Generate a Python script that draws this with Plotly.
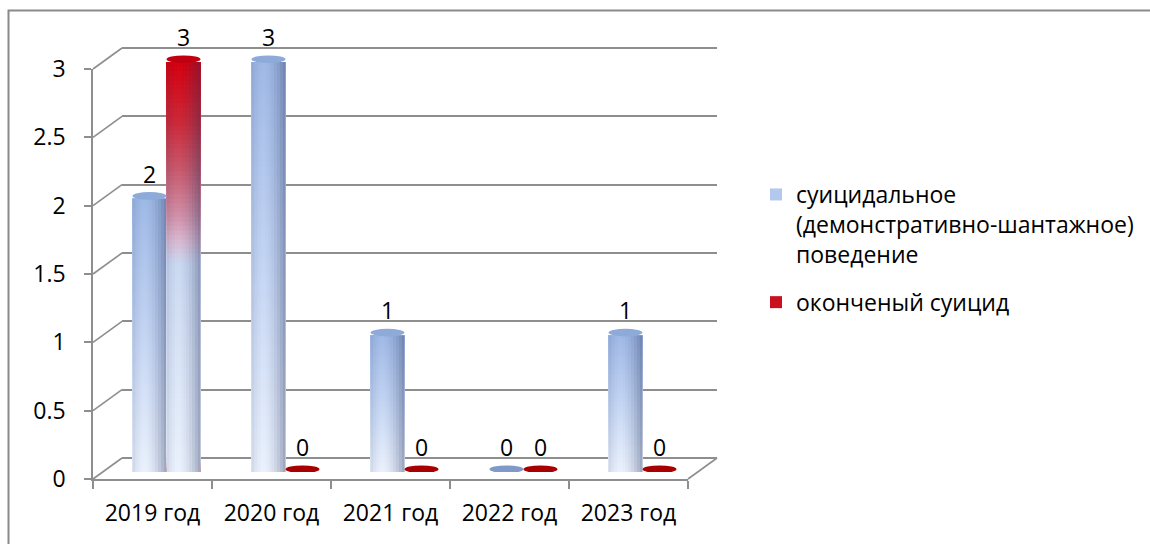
import plotly.graph_objects as go

# ---------------- data ----------------
years = ["2019 год", "2020 год", "2021 год", "2022 год", "2023 год"]
behaviour_name = "суицидальное<br>(демонстративно-шантажное)<br>поведение"
completed_name = "оконченый суицид"
behaviour = [2, 3, 1, 0, 1]
completed = [3, 0, 0, 0, 0]
y_ticks = [0, 0.5, 1, 1.5, 2, 2.5, 3]

# ---------------- geometry (pixels) ----------------
W, H = 1150, 544
FONT = "Open Sans"
FS = 23
PXU = 136.67            # pixels per unit on the value axis
FX0, FX1 = 93, 688      # front floor edge
FY0 = 479               # front zero level
DX, DY = 29, -21        # depth offset of back wall
BX0, BX1 = 107, 702     # bar plane
BY0 = 472               # bar base level
GRID = "#8e8e8e"


def px(x):
    return x / W


def py(y):
    return 1 - y / H


def hex2rgb(h):
    h = h.lstrip("#")
    return tuple(int(h[i:i + 2], 16) for i in (0, 2, 4))


def grad(stops, t):
    for (t0, c0), (t1, c1) in zip(stops[:-1], stops[1:]):
        if t <= t1:
            a = (t - t0) / (t1 - t0) if t1 > t0 else 0
            r0, r1 = hex2rgb(c0), hex2rgb(c1)
            return "rgb(%d,%d,%d)" % tuple(round(r0[i] + (r1[i] - r0[i]) * a) for i in range(3))
    return stops[-1][1]


BLUE_STOPS = [(0, "#eaf1fc"), (0.5, "#c4d5f3"), (1, "#9fb9e6")]
RED_STOPS = [(0, "#eaf1fc"), (0.51, "#cad8f1"), (0.565, "#d8b8d0"), (0.625, "#d090a8"),
             (0.735, "#c85a6e"), (0.85, "#cc2a3a"), (1, "#d40010")]

series = [
    dict(name=behaviour_name, values=behaviour, stops=BLUE_STOPS, legend="#b3c8ee",
         top="#8eaad9", zero="#7f9ac8", side=-1, group="a"),
    dict(name=completed_name, values=completed, stops=RED_STOPS, legend="#c8101e",
         top="#c00010", zero="#a80000", side=1, group="b"),
]

BW = 0.286
K = 90
S = 12

fig = go.Figure()

# helper traces to create the back-wall and front-axis subplots
fig.add_scatter(x=years, y=behaviour, xaxis="x", yaxis="y", mode="markers",
                marker=dict(size=1, opacity=0), hoverinfo="skip", showlegend=False)
fig.add_scatter(x=years, y=behaviour, xaxis="x2", yaxis="y2", mode="markers",
                marker=dict(size=1, opacity=0), hoverinfo="skip", showlegend=False)

shapes = []
annotations = []

for s in series:
    vals = s["values"]
    off = -BW if s["side"] < 0 else 0.0
    # legend / base trace
    fig.add_bar(x=years, y=vals, offset=off, width=BW, name=s["name"],
                marker=dict(color=s["legend"], line=dict(width=0)),
                xaxis="x3", yaxis="y3", hoverinfo="skip", legendgroup=s["group"],
                showlegend=True)
    # vertical gradient
    for k in range(K):
        lo = k / K
        t = (k + 0.5) / K
        fig.add_bar(x=years, y=[v * (1 - lo) for v in vals], base=[v * lo for v in vals],
                    offset=off, width=BW,
                    marker=dict(color=grad(s["stops"], t), line=dict(width=0)),
                    xaxis="x3", yaxis="y3", hoverinfo="skip", showlegend=False,
                    legendgroup=s["group"])
    # horizontal cylinder shading
    for j in range(S):
        u = (j + 0.5) / S
        if u < 0.35:
            a = 0.14 * ((0.35 - u) / 0.35) ** 2
        else:
            a = 0.42 * ((u - 0.35) / 0.65) ** 1.8
        fig.add_bar(x=years, y=vals, offset=off + BW * j / S, width=BW / S,
                    marker=dict(color="rgba(40,52,95,%.3f)" % a, line=dict(width=0)),
                    xaxis="x3", yaxis="y3", hoverinfo="skip", showlegend=False,
                    legendgroup=s["group"])
    cx_off = off + BW / 2
    hh = 0.028
    for i, v in enumerate(vals):
        cx = i + cx_off
        shapes.append(dict(type="circle", xref="x3", yref="y3",
                           x0=cx - BW / 2, x1=cx + BW / 2,
                           y0=v + 0.02 - hh, y1=v + 0.02 + hh,
                           fillcolor=s["top"] if v else s["zero"], line=dict(width=0),
                           layer="above"))
        if v:
            shapes.append(dict(type="circle", xref="x3", yref="y3",
                               x0=cx - BW / 2, x1=cx + BW / 2, y0=-hh, y1=hh,
                               fillcolor="#dfe7f5", line=dict(width=0), layer="below"))
        annotations.append(dict(x=cx, y=v, xref="x3", yref="y3", text=str(v),
                                showarrow=False, yshift=25,
                                font=dict(family=FONT, size=FS, color="black")))

# 3D frame: diagonals from front ticks to back wall, right floor edge
for v in y_ticks:
    shapes.append(dict(type="line", xref="paper", yref="paper",
                       x0=px(FX0), y0=py(FY0 - v * PXU),
                       x1=px(FX0 + DX), y1=py(FY0 + DY - v * PXU),
                       line=dict(color=GRID, width=1.6), layer="below"))
shapes.append(dict(type="line", xref="paper", yref="paper",
                   x0=px(FX1), y0=py(FY0), x1=px(FX1 + DX), y1=py(FY0 + DY),
                   line=dict(color=GRID, width=1.6), layer="below"))
# outer chart border
shapes.append(dict(type="rect", xref="paper", yref="paper",
                   x0=px(8.5), x1=1.02, y0=-0.02, y1=py(10.5),
                   line=dict(color="#8a8a8a", width=2), fillcolor="rgba(0,0,0,0)",
                   layer="below"))

pad = 0.05
fig.update_layout(
    template="none",
    width=W, height=H, autosize=False,
    margin=dict(l=0, r=0, t=0, b=0, pad=0, autoexpand=False),
    paper_bgcolor="white", plot_bgcolor="rgba(0,0,0,0)",
    barmode="overlay",
    font=dict(family=FONT, size=FS, color="black"),
    showlegend=True,
    legend=dict(x=px(756), y=py(173), xanchor="left", yanchor="top",
                font=dict(family=FONT, size=FS, color="black"),
                valign="top", tracegroupgap=15, bgcolor="rgba(0,0,0,0)",
                traceorder="grouped", borderwidth=0),
    # back wall (grid lines)
    xaxis=dict(domain=[px(FX0 + DX), px(FX1 + DX)], range=[-0.5, 4.5], visible=False,
               anchor="y", type="category", automargin=False),
    yaxis=dict(domain=[py(FY0 + DY + pad * PXU), py(FY0 + DY - (3 + pad) * PXU)],
               range=[-pad, 3 + pad], anchor="x", showgrid=True, gridcolor=GRID,
               gridwidth=1.6, tick0=0, dtick=0.5, showticklabels=False, zeroline=False,
               ticks="", showline=False, automargin=False),
    # front axes (labels)
    xaxis2=dict(domain=[px(FX0), px(FX1)], range=[-0.5, 4.5], type="category",
                anchor="y2", tickson="boundaries", ticks="outside", ticklen=8,
                tickcolor=GRID, tickwidth=1.6, showline=True, linecolor=GRID,
                linewidth=1.6, showgrid=False, zeroline=False, automargin=False,
                tickfont=dict(family=FONT, size=FS, color="black"),
                ticklabelstandoff=13),
    yaxis2=dict(domain=[py(FY0), py(FY0 - 3 * PXU)], range=[0, 3], anchor="x2",
                tick0=0, dtick=0.5, ticks="outside", ticklen=7, tickcolor=GRID,
                tickwidth=1.6, showline=True, linecolor=GRID, linewidth=1.6,
                showgrid=False, zeroline=False, automargin=False,
                tickfont=dict(family=FONT, size=FS, color="black"),
                ticklabelstandoff=14),
    # bar plane
    xaxis3=dict(domain=[px(BX0), px(BX1)], range=[-0.5, 4.5], type="category",
                anchor="y3", visible=False, automargin=False),
    yaxis3=dict(domain=[py(BY0), py(BY0 - 3.3 * PXU)], range=[0, 3.3], anchor="x3",
                visible=False, automargin=False),
    shapes=shapes,
    annotations=annotations,
)

fig.write_html("out.html", config={"displayModeBar": False},
               post_script="document.body.style.margin='0';")
